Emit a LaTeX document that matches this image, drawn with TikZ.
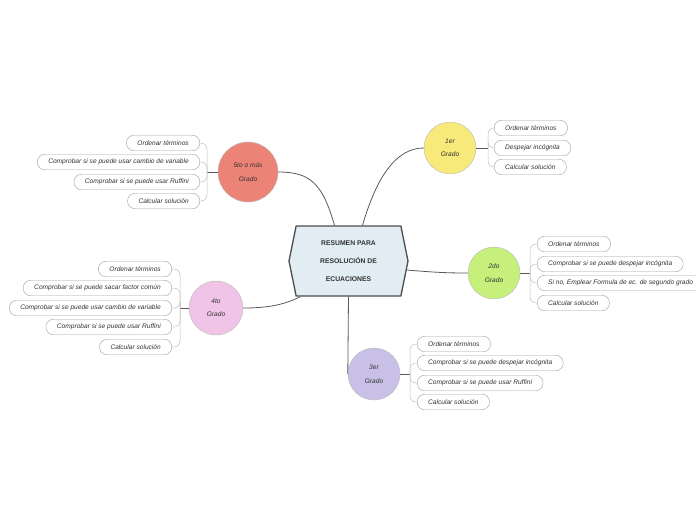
\documentclass[tikz,border=0pt]{standalone}
\usepackage{fontspec}
\setmainfont{Liberation Sans}
\usepackage{tikz}
\usetikzlibrary{positioning, calc, shapes.symbols}
\usepackage{xcolor}
\definecolor{hubfill}{HTML}{E1EDF3}
\definecolor{cYel}{HTML}{F8EA7A}
\definecolor{cGrn}{HTML}{C6EF7C}
\definecolor{cLav}{HTML}{C8C0E6}
\definecolor{cRed}{HTML}{EC8377}
\definecolor{cPnk}{HTML}{EFC4E6}
\definecolor{ink}{HTML}{333333}

\begin{document}
\begin{tikzpicture}[x=1pt, y=-1pt, every node/.style={font=\fontsize{6.6}{9}\selectfont\itshape, text=ink}]
\useasboundingbox (0,0) rectangle (696,520);
\tikzset{
  grade/.style={circle, draw=gray!55, align=center, inner sep=0pt, font=\fontsize{6.6}{13.5}\selectfont\itshape},
  leaf/.style={draw=gray!75, fill=white, rounded corners=7.5pt, minimum height=15.5pt, inner xsep=11pt, inner ysep=0pt},
  trunk/.style={draw=black!65, line width=0.8pt},
  twig/.style={draw=gray!50, line width=0.5pt, rounded corners=6pt}
}
\node (res) [shape=signal, signal to=east and west, signal pointer angle=157, draw=black!70, line width=1.3pt, fill=hubfill,
  minimum width=119pt, minimum height=70pt, align=center, font=\fontsize{6.8}{18}\selectfont\bfseries] at (348.5,261)
  {RESUMEN PARA\\RESOLUCIÓN DE\\ECUACIONES};

\node (g1) [grade, fill=cYel, minimum size=52pt] at (450,148) {1er\\Grado};
\node (g2) [grade, fill=cGrn, minimum size=52pt] at (494,273) {2do\\Grado};
\node (g3) [grade, fill=cLav, minimum size=52pt] at (374,374) {3er\\Grado};
\node (g4) [grade, fill=cPnk, minimum size=54pt] at (216,308) {4to\\Grado};
\node (g5) [grade, fill=cRed, minimum size=60pt] at (248,172) {5to o más\\Grado};

\draw[trunk] ($(res.north)+(14,0)$) .. controls +(14,-48) and +(-28,0) .. (g1.west);
\draw[trunk] ($(res.east)+(-2,9)$) .. controls +(25,2) and +(-25,0) .. (g2.west);
\draw[trunk] (res.south) -- (g3.west);
\draw[trunk] ($(res.south)+(-48,0)$) .. controls +(-18,9) and +(22,0) .. (g4.east);
\draw[trunk] ($(res.north)+(-14,0)$) .. controls +(-12,-42) and +(32,0) .. (g5.east);

% 1er grado
\coordinate (j1) at (488,148);
\node (g1a) [leaf, anchor=west] at (494,128) {Ordenar términos};
\node (g1b) [leaf, anchor=west] at (494,148) {Despejar incógnita};
\node (g1c) [leaf, anchor=west] at (494,167) {Calcular solución};
\draw[trunk] (g1.east) -- (j1);
\foreach \c in {g1a,g1b,g1c} \draw[twig] (j1) |- (\c.west);

% 2do grado
\coordinate (j2) at (530,273);
\node (g2a) [leaf, anchor=west] at (537,244) {Ordenar términos};
\node (g2b) [leaf, anchor=west] at (537,264) {Comprobar si se puede despejar incógnita};
\node (g2c) [leaf, anchor=west] at (537,283) {Si no, Emplear Formula de ec. de segundo grado};
\node (g2d) [leaf, anchor=west] at (537,303) {Calcular solución};
\draw[trunk] (g2.east) -- (j2);
\foreach \c in {g2a,g2b,g2c,g2d} \draw[twig] (j2) |- (\c.west);

% 3er grado
\coordinate (j3) at (410,374);
\node (g3a) [leaf, anchor=west] at (417,344) {Ordenar términos};
\node (g3b) [leaf, anchor=west] at (417,363) {Comprobar si se puede despejar incógnita};
\node (g3c) [leaf, anchor=west] at (417,383) {Comprobar si se puede usar Ruffini};
\node (g3d) [leaf, anchor=west] at (417,402) {Calcular solución};
\draw[trunk] (g3.east) -- (j3);
\foreach \c in {g3a,g3b,g3c,g3d} \draw[twig] (j3) |- (\c.west);

% 4to grado
\coordinate (j4) at (180,308);
\node (g4a) [leaf, anchor=east] at (172,269) {Ordenar términos};
\node (g4b) [leaf, anchor=east] at (172,288) {Comprobar si se puede sacar factor común};
\node (g4c) [leaf, anchor=east] at (172,308) {Comprobar si se puede usar cambio de variable};
\node (g4d) [leaf, anchor=east] at (172,327) {Comprobar si se puede usar Ruffini};
\node (g4e) [leaf, anchor=east] at (172,347) {Calcular solución};
\draw[trunk] (g4.west) -- (j4);
\foreach \c in {g4a,g4b,g4c,g4d,g4e} \draw[twig] (j4) |- (\c.east);

% 5to o mas
\coordinate (j5) at (207,172);
\node (g5a) [leaf, anchor=east] at (200,143) {Ordenar términos};
\node (g5b) [leaf, anchor=east] at (200,162) {Comprobar si se puede usar cambio de variable};
\node (g5c) [leaf, anchor=east] at (200,182) {Comprobar si se puede usar Ruffini};
\node (g5d) [leaf, anchor=east] at (200,201) {Calcular solución};
\draw[trunk] (g5.west) -- (j5);
\foreach \c in {g5a,g5b,g5c,g5d} \draw[twig] (j5) |- (\c.east);
\end{tikzpicture}
\end{document}
